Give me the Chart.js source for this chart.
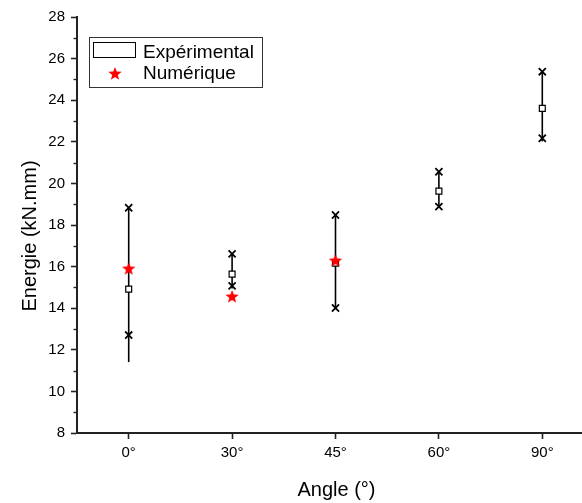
<!DOCTYPE html>
<html lang="fr">
<head>
  <meta charset="UTF-8" />
  <title>Energie vs Angle</title>
  <script src="https://cdn.jsdelivr.net/npm/chart.js"></script>
  <style>
    body { margin: 0; background: #ffffff; }
    canvas { display: block; }
  </style>
</head>
<body>
  <canvas id="energyChart" width="582" height="503"></canvas>
  <script>
    // Values
    const angles = ['0°', '30°', '45°', '60°', '90°'];
    const whiskerLow  = [11.41, 14.95, 14.01, 18.85, 22.02];
    const whiskerHigh = [18.83, 16.61, 18.48, 20.56, 25.37];
    const maxMarks    = [18.83, 16.61, 18.48, 20.56, 25.37];
    const minMarks    = [12.71, 15.07, 14.01, 18.88, 22.17];
    const meanMarks   = [14.92, 15.64, 16.17, 19.63, 23.61];
    const numerique   = [15.93, 14.59, 16.32, null, null];

    const axisColor = '#222';
    const fontFamily = 'Arial, "Liberation Sans", sans-serif';

    // filled 5-point star used as point style
    function makeStar(r, color) {
      const c = document.createElement('canvas');
      const s = Math.ceil(r * 2) + 2;
      c.width = s; c.height = s;
      const g = c.getContext('2d');
      g.fillStyle = color;
      g.beginPath();
      for (let k = 0; k < 10; k++) {
        const rad = k % 2 === 0 ? r : r * 0.42;
        const a = -Math.PI / 2 + k * Math.PI / 5;
        const px = s / 2 + rad * Math.cos(a);
        const py = s / 2 + 1 + rad * Math.sin(a);
        if (k === 0) g.moveTo(px, py); else g.lineTo(px, py);
      }
      g.closePath();
      g.fill();
      return c;
    }
    const star = makeStar(7, '#ff0000');

    const pts = arr => arr.map((v, i) => v === null ? null : { x: i + 1, y: v }).filter(Boolean);

    const whiskers = angles.map((a, i) => ({
      type: 'line',
      data: [{ x: i + 1, y: whiskerLow[i] }, { x: i + 1, y: whiskerHigh[i] }],
      borderColor: '#000',
      borderWidth: 1.6,
      pointRadius: 0,
      showLine: true,
      order: 3
    }));

    // minor ticks on y + legend + axis titles
    const extras = {
      id: 'extras',
      afterDraw(chart) {
        const ctx = chart.ctx;
        const y = chart.scales.y;
        const area = chart.chartArea;
        ctx.save();
        ctx.strokeStyle = axisColor;
        ctx.lineWidth = 1.4;
        for (let v = 9; v < 28; v += 2) {
          const py = Math.round(y.getPixelForValue(v)) + 0.5;
          ctx.beginPath();
          ctx.moveTo(area.left - 3.5, py);
          ctx.lineTo(area.left, py);
          ctx.stroke();
        }

        // legend
        ctx.lineWidth = 1;
        ctx.strokeStyle = '#333';
        ctx.strokeRect(89.5, 37.5, 173, 50);
        ctx.strokeStyle = '#000';
        ctx.strokeRect(93.5, 42.5, 42, 15);
        ctx.fillStyle = '#000';
        ctx.font = '19px ' + fontFamily;
        ctx.textBaseline = 'alphabetic';
        ctx.textAlign = 'left';
        ctx.fillText('Expérimental', 143, 58);
        ctx.fillText('Numérique', 143, 79);
        ctx.drawImage(star, 115 - star.width / 2, 73 - star.height / 2);

        // axis titles
        ctx.font = '20px ' + fontFamily;
        ctx.textAlign = 'center';
        ctx.fillText('Angle (°)', 336.5, 495.5);
        ctx.translate(35.5, 236);
        ctx.rotate(-Math.PI / 2);
        ctx.fillText('Energie (kN.mm)', 0, 0);
        ctx.restore();
      }
    };

    new Chart(document.getElementById('energyChart'), {
      type: 'scatter',
      data: {
        datasets: [
          {
            data: pts(numerique),
            pointStyle: star,
            pointRadius: 7,
            order: 0
          },
          {
            data: pts(meanMarks),
            pointStyle: 'rect',
            pointRadius: 4.2,
            backgroundColor: '#fff',
            borderColor: '#000',
            borderWidth: 1.2,
            order: 1
          },
          {
            data: pts(maxMarks).concat(pts(minMarks)),
            pointStyle: 'crossRot',
            pointRadius: 5,
            borderColor: '#000',
            borderWidth: 1.8,
            order: 2
          },
          ...whiskers
        ]
      },
      options: {
        responsive: false,
        animation: false,
        layout: { autoPadding: false, padding: { top: 17, right: 0, left: 0, bottom: 0 } },
        plugins: {
          legend: { display: false },
          tooltip: { enabled: false }
        },
        scales: {
          x: {
            type: 'linear',
            min: 0.5,
            max: 5.384,
            afterBuildTicks: s => { s.ticks = angles.map((a, i) => ({ value: i + 1 })); },
            afterFit: s => { s.height = 70; s.paddingLeft = 0; s.paddingRight = 0; },
            ticks: {
              callback: v => angles[v - 1],
              color: '#000',
              font: { family: fontFamily, size: 15 },
              padding: 5,
              maxRotation: 0
            },
            grid: {
              drawOnChartArea: false,
              tickLength: 6,
              tickWidth: 1.6,
              tickColor: axisColor
            },
            border: { color: axisColor, width: 2 }
          },
          y: {
            min: 8,
            max: 28,
            afterFit: s => { s.width = 77; s.paddingTop = 0; s.paddingBottom = 0; },
            ticks: {
              stepSize: 2,
              color: '#000',
              font: { family: fontFamily, size: 15 },
              padding: 6
            },
            grid: {
              drawOnChartArea: false,
              tickLength: 6,
              tickWidth: 1.6,
              tickColor: axisColor
            },
            border: { color: axisColor, width: 2 }
          }
        }
      },
      plugins: [extras]
    });
  </script>
</body>
</html>
